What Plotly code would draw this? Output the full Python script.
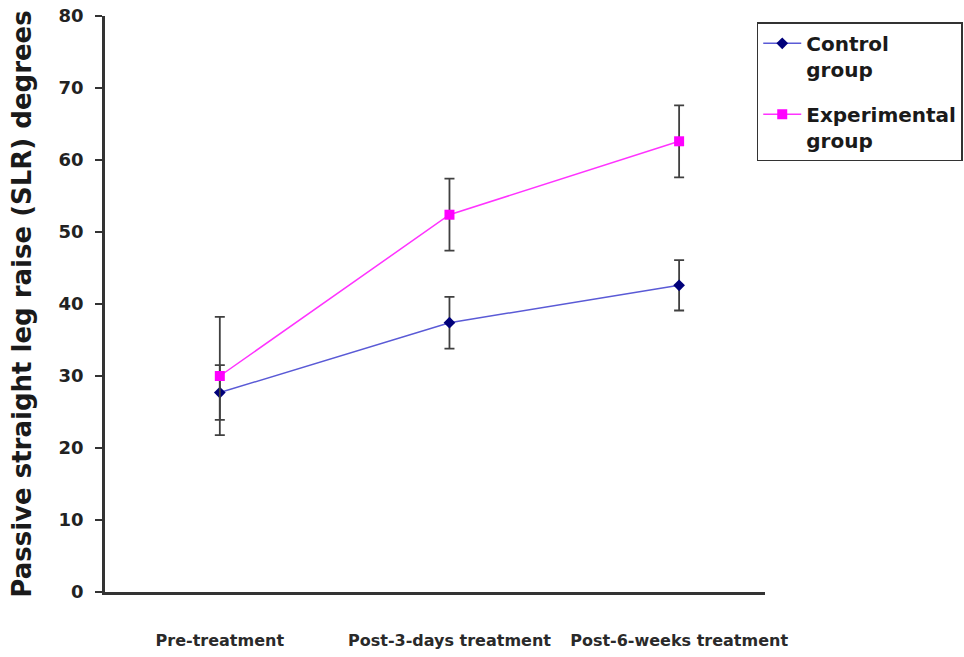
import plotly.graph_objects as go

categories = ["Pre-treatment", "Post-3-days treatment", "Post-6-weeks treatment"]
control_mean = [27.7, 37.4, 42.6]
control_sd = [3.8, 3.6, 3.5]
exp_mean = [30.0, 52.4, 62.6]
exp_sd = [8.2, 5.0, 5.0]
y_ticks = [0, 10, 20, 30, 40, 50, 60, 70, 80]

BOLD = "DejaVu Sans, Liberation Sans, Arial, sans-serif"

fig = go.Figure()
fig.add_trace(go.Scatter(
    x=categories, y=control_mean, name="Control<br>group", mode="lines+markers",
    legendgroup="c",
    line=dict(color="#5a5ad6", width=1.5),
    marker=dict(symbol="diamond", size=9, color="#00007a"),
    error_y=dict(type="data", array=control_sd, color="#404040", thickness=1.8, width=5),
))
fig.add_trace(go.Scatter(
    x=categories, y=exp_mean, name="Experimental<br>group", mode="lines+markers",
    legendgroup="e",
    line=dict(color="#ff33ff", width=1.5),
    marker=dict(symbol="square", size=10, color="#ff00ff"),
    error_y=dict(type="data", array=exp_sd, color="#404040", thickness=1.8, width=5),
))

fig.update_layout(
    width=964, height=657,
    margin=dict(l=105, r=199, t=16, b=65, autoexpand=False),
    paper_bgcolor="white", plot_bgcolor="white",
    font=dict(family=BOLD, color="#1a1a1a"),
    showlegend=True,
    legend=dict(
        xref="container", yref="container",
        x=0.785, y=0.966, xanchor="left", yanchor="top",
        bordercolor="#333333", borderwidth=1.5, valign="top",
        font=dict(size=20, color="#1a1a1a", family=BOLD, weight="bold"),
        itemwidth=38, tracegroupgap=16,
    ),
)
fig.update_xaxes(
    type="category", range=[-0.5, 2.374], automargin=False,
    showline=True, linecolor="#333333", linewidth=2.5,
    ticks="", showgrid=False, zeroline=False,
    tickfont=dict(size=16, color="#2a2a2a", family=BOLD, weight="bold"),
    ticklabelstandoff=32,
)
fig.update_yaxes(
    range=[0, 80], tickvals=y_ticks, automargin=False,
    showline=True, linecolor="#333333", linewidth=2.5,
    ticks="outside", ticklen=7, tickwidth=2, tickcolor="#333333",
    showgrid=False, zeroline=False,
    tickfont=dict(size=18, color="#222222", family=BOLD, weight="bold"),
    ticklabelstandoff=8,
    title=dict(text="Passive straight leg raise (SLR) degrees",
               font=dict(size=26, color="#1a1a1a", family=BOLD, weight="bold"), standoff=20),
)

fig.write_html("out.html", config={"displayModeBar": False},
               post_script="document.body.style.margin='0';")
